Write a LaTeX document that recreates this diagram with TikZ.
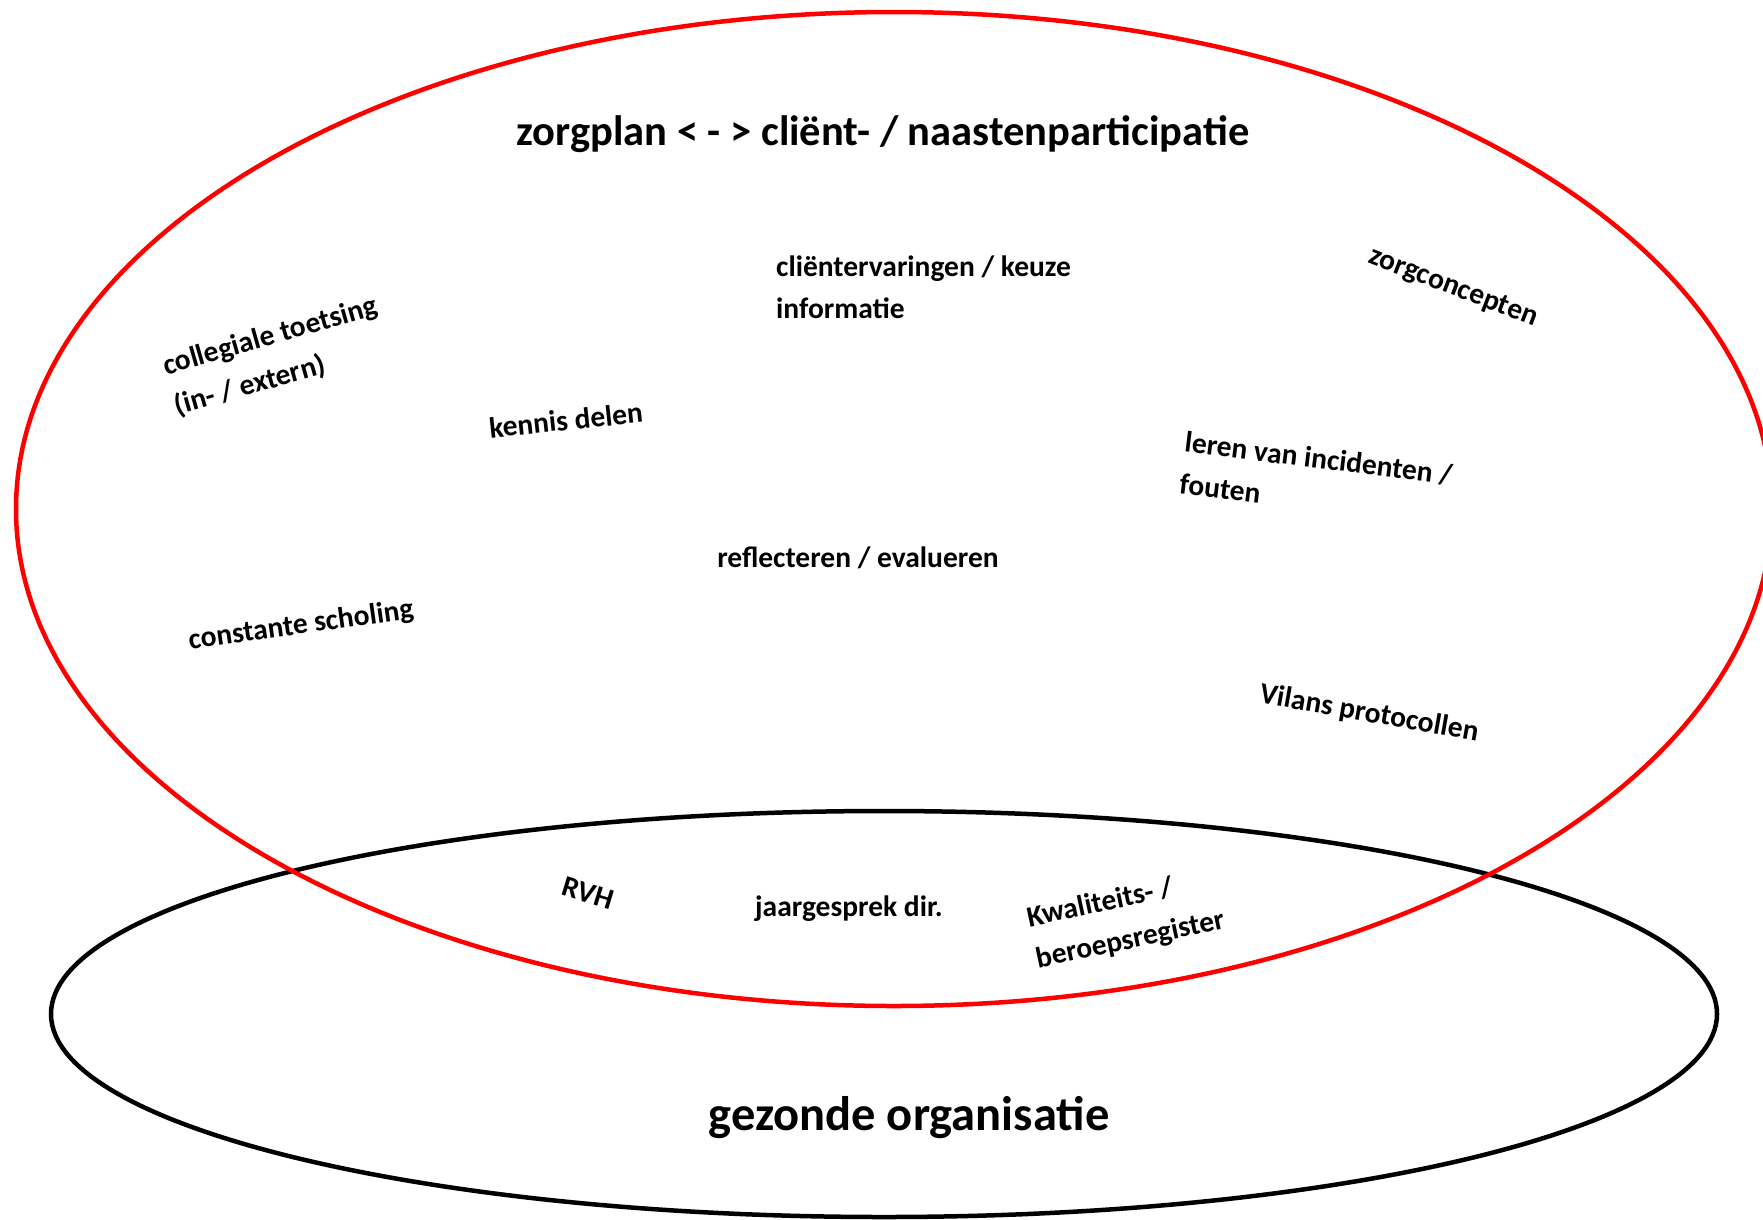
\documentclass[tikz,border=0pt]{standalone}
\usepackage{fontspec}
\setmainfont{Carlito}
\tikzset{
    kring/.style = {
        line width=4.5pt,
        },
    zorg kring/.style = {
        kring,
        draw=red,
        },
    org kring/.style = {
        kring,
        draw=black,
        },
    term/.style = {
        font=\fontsize{29.5}{42}\selectfont\bfseries,
        align=left,
        inner sep=0pt,
        },
    kop/.style = {
        font=\fontsize{42.5}{48}\selectfont\bfseries,
        inner sep=0pt,
        },
    grote kop/.style = {
        font=\fontsize{48.5}{54}\selectfont\bfseries,
        inner sep=0pt,
        },
}
\begin{document}
\begin{tikzpicture}[x=1pt, y=-1pt]
    \useasboundingbox (0,0) rectangle (1763,1219);
    \clip (0,0) rectangle (1763,1219);

    % de twee kringen
    \draw[org kring] (884,1014) ellipse [x radius=833, y radius=203];
    \draw[zorg kring] (894,509) ellipse [x radius=878, y radius=497];

    \node[kop] (zorgplan) at (883,134) {zorgplan < - > cliënt- / naastenparticipatie};
    \node[grote kop] (gezond) at (909,1118) {gezonde organisatie};

    % termen binnen de rode kring
    \node[term, anchor=west] (ervaring) at (776,287) {cliëntervaringen / keuze\\informatie};
    \node[term, rotate=-21] (concepten) at (1453,288) {zorgconcepten};
    \node[term, rotate=16] (toetsing) at (276,357) {collegiale toetsing\\(in- / extern)};
    \node[term, rotate=6] (kennis) at (566,420) {kennis delen};
    \node[term, rotate=-7] (incident) at (1316,479) {leren van incidenten /\\fouten};
    \node[term] (reflect) at (858,558) {reflecteren / evalueren};
    \node[term, rotate=8] (scholing) at (301,626) {constante scholing};
    \node[term, rotate=-10] (vilans) at (1369,714) {Vilans protocollen};

    % termen in de overlap
    \node[term, rotate=-17] (rvh) at (588,893) {RVH};
    \node[term] (jaar) at (849,909) {jaargesprek dir.};
    \node[term, rotate=12] (register) at (1126,920) {Kwaliteits- /\\beroepsregister};
\end{tikzpicture}
\end{document}
